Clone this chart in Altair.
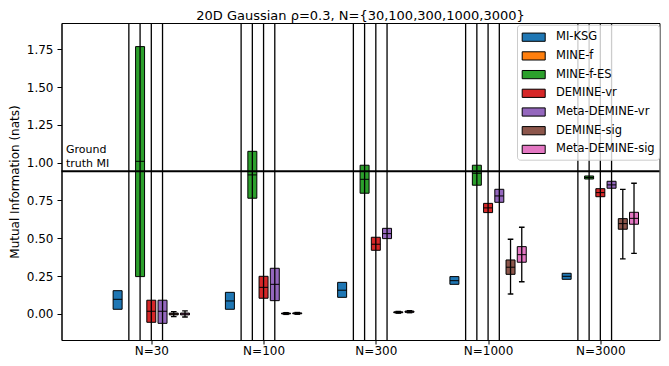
import altair as alt
import pandas as pd

# ---------------- data ----------------
Ns = [30, 100, 300, 1000, 3000]
methods = ["MI-KSG", "MINE-f", "MINE-f-ES", "DEMINE-vr", "Meta-DEMINE-vr",
           "DEMINE-sig", "Meta-DEMINE-sig"]
colors = ["#1f77b4", "#ff7f0e", "#2ca02c", "#d62728", "#9467bd",
          "#8c564b", "#e377c2"]

q1 = {
    "MI-KSG":          [0.031, 0.031, 0.110, 0.196, 0.229],
    "MINE-f":          [2.30, 2.30, 2.30, 2.30, 2.30],
    "MINE-f-ES":       [0.247, 0.765, 0.798, 0.851, 0.892],
    "DEMINE-vr":       [-0.055, 0.104, 0.421, 0.670, 0.775],
    "Meta-DEMINE-vr":  [-0.062, 0.088, 0.498, 0.738, 0.831],
    "DEMINE-sig":      [-0.006, 0.000, 0.008, 0.262, 0.560],
    "Meta-DEMINE-sig": [-0.006, 0.001, 0.011, 0.342, 0.593],
}
median = {
    "MI-KSG":          [0.097, 0.086, 0.157, 0.220, 0.249],
    "MINE-f":          [2.60, 2.60, 2.60, 2.60, 2.60],
    "MINE-f-ES":       [1.009, 0.919, 0.890, 0.930, 0.902],
    "DEMINE-vr":       [0.018, 0.176, 0.461, 0.701, 0.802],
    "Meta-DEMINE-vr":  [0.018, 0.196, 0.531, 0.780, 0.853],
    "DEMINE-sig":      [0.000, 0.003, 0.011, 0.309, 0.597],
    "Meta-DEMINE-sig": [0.000, 0.004, 0.015, 0.392, 0.632],
}
q3 = {
    "MI-KSG":          [0.154, 0.143, 0.209, 0.247, 0.269],
    "MINE-f":          [2.90, 2.90, 2.90, 2.90, 2.90],
    "MINE-f-ES":       [1.767, 1.075, 0.983, 0.983, 0.912],
    "DEMINE-vr":       [0.091, 0.249, 0.507, 0.731, 0.828],
    "Meta-DEMINE-vr":  [0.091, 0.302, 0.566, 0.824, 0.877],
    "DEMINE-sig":      [0.006, 0.006, 0.014, 0.357, 0.630],
    "Meta-DEMINE-sig": [0.006, 0.007, 0.019, 0.445, 0.672],
}
whisker_lo = {
    "MI-KSG":          [0.031, 0.031, 0.110, 0.196, 0.229],
    "MINE-f":          [-0.50, -0.50, -0.50, -0.50, -0.50],
    "MINE-f-ES":       [-0.50, -0.50, -0.50, -0.50, -0.50],
    "DEMINE-vr":       [-0.50, -0.50, -0.50, -0.50, -0.50],
    "Meta-DEMINE-vr":  [-0.50, -0.50, -0.50, -0.50, -0.50],
    "DEMINE-sig":      [-0.018, -0.003, 0.005, 0.132, 0.364],
    "Meta-DEMINE-sig": [-0.020, -0.002, 0.008, 0.213, 0.401],
}
whisker_hi = {
    "MI-KSG":          [0.154, 0.143, 0.209, 0.247, 0.269],
    "MINE-f":          [3.50, 3.50, 3.50, 3.50, 3.50],
    "MINE-f-ES":       [3.00, 3.00, 3.00, 3.00, 3.00],
    "DEMINE-vr":       [3.00, 3.00, 3.00, 3.00, 3.00],
    "Meta-DEMINE-vr":  [3.00, 3.00, 3.00, 3.00, 3.00],
    "DEMINE-sig":      [0.015, 0.009, 0.017, 0.494, 0.824],
    "Meta-DEMINE-sig": [0.020, 0.010, 0.022, 0.573, 0.864],
}

ground_truth = 0.943
ground_truth_label = "Ground\ntruth MI"
y_ticks = [0.0, 0.25, 0.5, 0.75, 1.0, 1.25, 1.5, 1.75]
y_domain = [-0.172, 1.923]
title_text = "20D Gaussian ρ=0.3, N={30,100,300,1000,3000}"

# ---------------- table ----------------
GROUP = 10  # slots per N group
rows = []
for gi, n in enumerate(Ns):
    for mi, m in enumerate(methods):
        rows.append({
            "N": n, "method": m, "pos": gi * GROUP + mi - 3,
            "q1": q1[m][gi], "med": median[m][gi], "q3": q3[m][gi],
            "lo": whisker_lo[m][gi], "hi": whisker_hi[m][gi],
        })
df = pd.DataFrame(rows)

PLOT_W, PLOT_H = 598, 317
x_ticks = [gi * GROUP for gi in range(len(Ns))]
label_arr = "[" + ",".join("'N=%d'" % n for n in Ns) + "]"
x_scale = alt.Scale(domain=[-8, 45.27], nice=False, zero=False)
y_scale = alt.Scale(domain=y_domain, nice=False, zero=False)

base = alt.Chart(df).transform_calculate(
    x0="datum.pos - 0.4", x1="datum.pos + 0.4",
    c0="datum.pos - 0.25", c1="datum.pos + 0.25",
)

legend = alt.Legend(
    title=None, orient="none", legendX=455.5, legendY=1.7,
    symbolType="M-1.4,-0.5L1.4,-0.5L1.4,0.5L-1.4,0.5Z", symbolSize=270,
    symbolStrokeColor="black", symbolStrokeWidth=1, symbolOpacity=1,
    labelFontSize=11.5, labelFont="DejaVu Sans", labelColor="black",
    rowPadding=2.7, padding=3.5, fillColor="rgba(255,255,255,0.8)",
    strokeColor="#cccccc", cornerRadius=3, labelOffset=13.3,
    symbolOffset=4.2, labelLimit=200,
)

boxes = base.mark_rect(stroke="black", strokeWidth=1, clip=True, opacity=1).encode(
    x=alt.X("x0:Q", scale=x_scale,
            axis=alt.Axis(values=x_ticks, labelExpr=label_arr + "[round(datum.value/%d)]" % GROUP,
                          title=None, tickSize=4, labelPadding=1.5)),
    x2="x1:Q",
    y=alt.Y("q1:Q", scale=y_scale,
            axis=alt.Axis(values=y_ticks, format=".2f", title="Mutual Information (nats)",
                          tickSize=4.5, labelPadding=4, titlePadding=5)),
    y2="q3:Q",
    color=alt.Color("method:N", scale=alt.Scale(domain=methods, range=colors), legend=legend),
)

whiskers = base.transform_filter("datum.hi > datum.q3 || datum.lo < datum.q1").mark_rule(
    color="black", strokeWidth=1.3, clip=True
).encode(x="pos:Q", y="lo:Q", y2="hi:Q")

caps = base.transform_filter("datum.hi > datum.q3 || datum.lo < datum.q1").transform_fold(
    ["lo", "hi"], as_=["which", "val"]
).mark_rule(color="black", strokeWidth=1.3, clip=True).encode(
    x="c0:Q", x2="c1:Q", y="val:Q"
)

medians = base.mark_rule(color="black", strokeWidth=1, clip=True).encode(
    x="x0:Q", x2="x1:Q", y="med:Q"
)

gt_df = pd.DataFrame({"gt": [ground_truth], "label": [ground_truth_label]})
gt_rule = alt.Chart(gt_df).mark_rule(color="black", strokeWidth=2).encode(y="gt:Q")
gt_text = alt.Chart(gt_df).mark_text(
    align="left", baseline="bottom", fontSize=11, lineHeight=14, dy=-16,
    lineBreak="\n", font="DejaVu Sans", color="black"
).encode(y="gt:Q", x=alt.value(4.5), text="label:N")

chart = alt.layer(boxes, whiskers, caps, medians, gt_rule, gt_text).properties(
    width=PLOT_W, height=PLOT_H,
    autosize=alt.AutoSizeParams(type="none"),
    padding={"left": 53.5, "top": 15, "right": 1.5, "bottom": 18},
    title=alt.TitleParams(title_text, fontSize=13, font="DejaVu Sans",
                          fontWeight="normal", color="black", anchor="middle", offset=0),
).configure_view(stroke="black", strokeWidth=1).configure_axis(
    domainColor="black", tickColor="black", labelColor="black", titleColor="black",
    labelFont="DejaVu Sans", titleFont="DejaVu Sans", labelFontSize=12,
    titleFontSize=12, titleFontWeight="normal", grid=False,
)

chart.save("out.html", embed_options={"renderer": "svg", "actions": False})
